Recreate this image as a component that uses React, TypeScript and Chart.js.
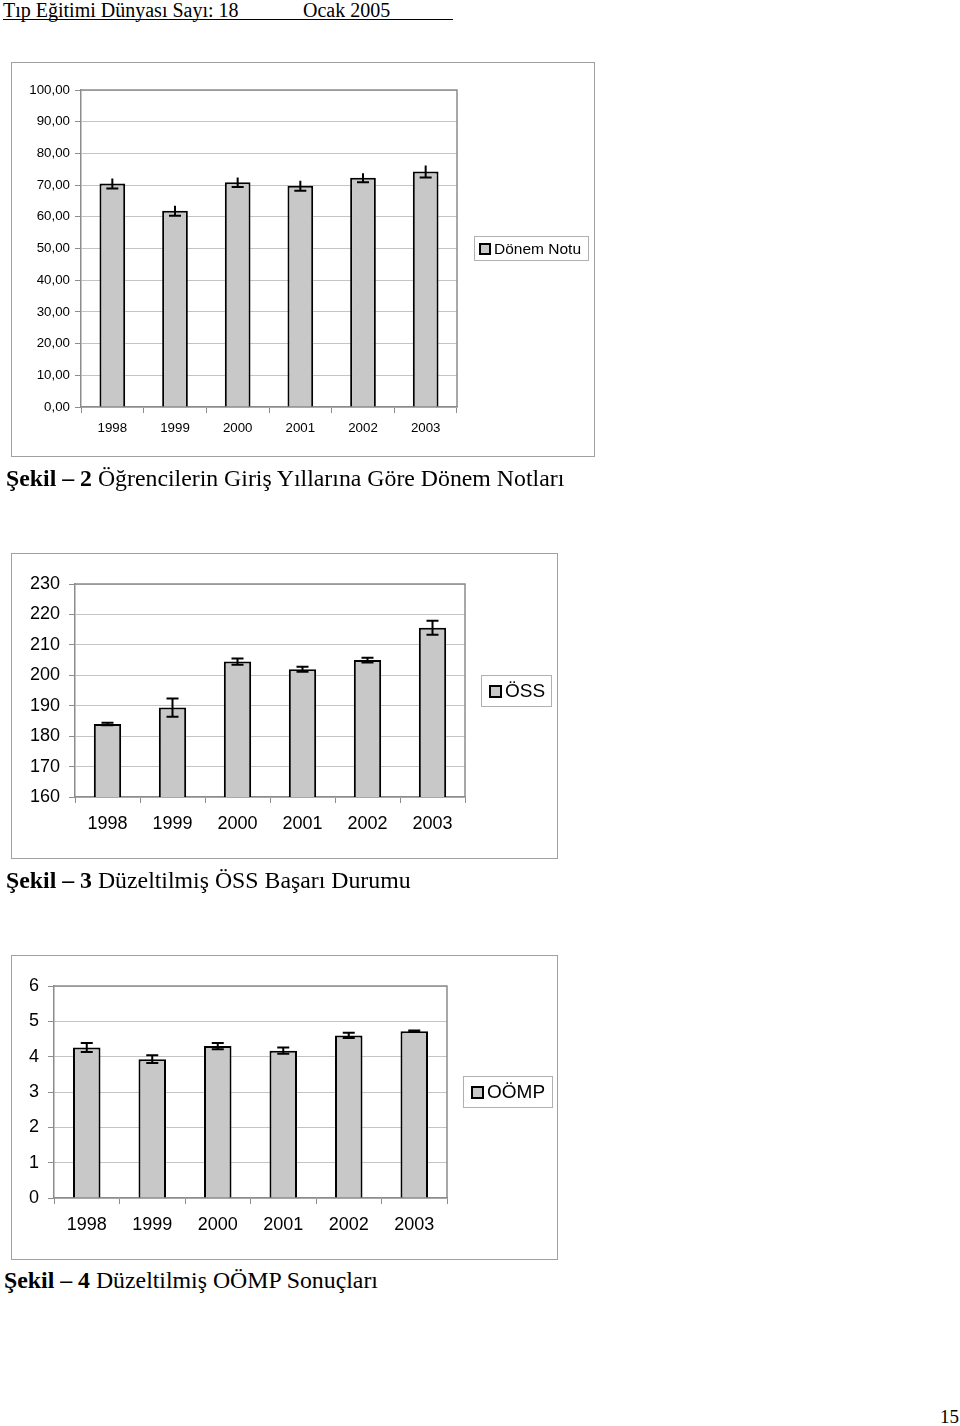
import React, { useEffect, useRef } from 'react';
import { Chart, registerables } from 'chart.js';
Chart.register(...registerables);

const years = ['1998', '1999', '2000', '2001', '2002', '2003'];

const donemNotu = [70.5, 61.9, 70.9, 69.8, 72.3, 74.3];
const donemNotuErr = [1.6, 1.6, 1.5, 1.6, 1.4, 1.9];

const oss = [184.0, 189.4, 204.5, 202.0, 205.0, 215.6];
const ossErr = [0.4, 3.0, 1.0, 0.8, 0.8, 2.3];

const oomp = [4.26, 3.93, 4.3, 4.17, 4.6, 4.72];
const oompErr = [0.13, 0.11, 0.09, 0.09, 0.075, 0.02];

const SANS = '"Liberation Sans", Arial, sans-serif';
const SERIF = '"Liberation Serif", "Times New Roman", serif';

type Box = { left: number; top: number; width: number; height: number };
type Plot = { left: number; right: number; top: number; bottom: number };

interface ChartSpec {
  box: Box;
  plot: Plot;
  values: number[];
  errors: number[];
  min: number;
  max: number;
  step: number;
  fontSize: number;
  barPct: number;
  topCap: boolean;
  capWidth: number;
  yPad: number;
  xPad: number;
  fmt: (v: number) => string;
  label: string;
}

function BarChart({ spec }: { spec: ChartSpec }) {
  const ref = useRef<HTMLCanvasElement | null>(null);
  useEffect(() => {
    if (!ref.current) return;
    const { box, plot } = spec;
    const errorPlugin = {
      id: 'errbars',
      afterDatasetsDraw(chart: any) {
        const meta = chart.getDatasetMeta(0);
        const ys = chart.scales.y;
        const ctx = chart.ctx;
        ctx.save();
        ctx.strokeStyle = '#000';
        ctx.lineWidth = 2;
        meta.data.forEach((bar: any, i: number) => {
          const v = spec.values[i];
          const e = spec.errors[i];
          const yT = ys.getPixelForValue(v + e);
          const yB = ys.getPixelForValue(v - e);
          const x = bar.x;
          const hw = spec.capWidth / 2;
          ctx.beginPath();
          ctx.moveTo(x, yT);
          ctx.lineTo(x, yB);
          ctx.moveTo(x - hw, yB);
          ctx.lineTo(x + hw, yB);
          if (spec.topCap) {
            ctx.moveTo(x - hw, yT);
            ctx.lineTo(x + hw, yT);
          }
          ctx.stroke();
        });
        ctx.restore();
      },
    };
    const framePlugin = {
      id: 'frame',
      beforeDatasetsDraw(chart: any) {
        const { ctx, chartArea } = chart;
        ctx.save();
        ctx.strokeStyle = '#8c8c8c';
        ctx.lineWidth = 1.5;
        ctx.beginPath();
        ctx.moveTo(chartArea.left, chartArea.top);
        ctx.lineTo(chartArea.right, chartArea.top);
        ctx.lineTo(chartArea.right, chartArea.bottom);
        ctx.stroke();
        ctx.restore();
      },
    };
    const chart = new Chart(ref.current, {
      type: 'bar',
      data: {
        labels: years,
        datasets: [
          {
            label: spec.label,
            data: spec.values,
            backgroundColor: '#c8c8c8',
            borderColor: '#000',
            borderWidth: 2,
            categoryPercentage: 1,
            barPercentage: spec.barPct,
          },
        ],
      },
      options: {
        responsive: false,
        animation: false,
        devicePixelRatio: 1,
        layout: {
          padding: {
            left: 0,
            top: plot.top - box.top,
            right: box.left + box.width - plot.right,
            bottom: 0,
          },
        },
        plugins: { legend: { display: false }, tooltip: { enabled: false } },
        scales: {
          x: {
            offset: true,
            grid: {
              offset: true,
              drawOnChartArea: false,
              drawTicks: true,
              tickLength: 6,
              color: '#8c8c8c',
              lineWidth: 1,
            },
            border: { display: true, color: '#8c8c8c', width: 1.5 },
            ticks: {
              color: '#000',
              font: { family: SANS, size: spec.fontSize },
              padding: spec.xPad,
              maxRotation: 0,
            },
            afterFit(scale: any) {
              scale.height = box.top + box.height - plot.bottom;
            },
          },
          y: {
            min: spec.min,
            max: spec.max,
            grid: {
              color: '#c4c4c4',
              lineWidth: 1,
              tickLength: 6,
              tickColor: '#8c8c8c',
            },
            border: { display: true, color: '#8c8c8c', width: 1.5 },
            ticks: {
              stepSize: spec.step,
              color: '#000',
              font: { family: SANS, size: spec.fontSize },
              padding: spec.yPad,
              callback: (v: any) => spec.fmt(Number(v)),
            },
            afterFit(scale: any) {
              scale.width = plot.left - box.left;
            },
          },
        },
      },
      plugins: [framePlugin, errorPlugin],
    } as any);
    return () => chart.destroy();
  }, [spec]);
  const { box } = spec;
  return (
    <>
      <canvas
        ref={ref}
        width={box.width}
        height={box.height}
        style={{ position: 'absolute', left: box.left, top: box.top, width: box.width, height: box.height, display: 'block' }}
      />
      <div
        style={{
          position: 'absolute',
          left: box.left,
          top: box.top,
          width: box.width,
          height: box.height,
          boxSizing: 'border-box',
          border: '1.5px solid #a0a0a0',
          pointerEvents: 'none',
        }}
      />
    </>
  );
}

function Legend({
  left,
  top,
  width,
  height,
  size,
  text,
  sw,
  pad,
}: {
  left: number;
  top: number;
  width: number;
  height: number;
  size: number;
  text: string;
  sw: number;
  pad: number;
}) {
  return (
    <div
      style={{
        position: 'absolute',
        left,
        top,
        width,
        height,
        boxSizing: 'border-box',
        border: '1px solid #b0b0b0',
        display: 'flex',
        alignItems: 'center',
        paddingLeft: pad,
        fontFamily: SANS,
        fontSize: size,
        color: '#000',
        whiteSpace: 'nowrap',
      }}
    >
      <span
        style={{
          display: 'inline-block',
          width: sw,
          height: sw,
          boxSizing: 'border-box',
          border: '2px solid #000',
          background: '#c8c8c8',
          marginRight: 3,
          flex: 'none',
        }}
      />
      <span>{text}</span>
    </div>
  );
}

const spec1: ChartSpec = {
  box: { left: 11, top: 62, width: 584, height: 395 },
  plot: { left: 81, right: 457, top: 90, bottom: 407 },
  values: donemNotu,
  errors: donemNotuErr,
  min: 0,
  max: 100,
  step: 10,
  fontSize: 13.3,
  barPct: 0.41,
  topCap: false,
  capWidth: 12,
  yPad: 5,
  xPad: 7,
  fmt: (v) => v.toFixed(2).replace('.', ','),
  label: 'Dönem Notu',
};

const spec2: ChartSpec = {
  box: { left: 11, top: 553, width: 547, height: 306 },
  plot: { left: 75, right: 465, top: 584, bottom: 797 },
  values: oss,
  errors: ossErr,
  min: 160,
  max: 230,
  step: 10,
  fontSize: 18,
  barPct: 0.42,
  topCap: true,
  capWidth: 12,
  yPad: 9,
  xPad: 10,
  fmt: (v) => String(v),
  label: 'ÖSS',
};

const spec3: ChartSpec = {
  box: { left: 11, top: 955, width: 547, height: 305 },
  plot: { left: 54, right: 447, top: 986, bottom: 1198 },
  values: oomp,
  errors: oompErr,
  min: 0,
  max: 6,
  step: 1,
  fontSize: 18,
  barPct: 0.42,
  topCap: true,
  capWidth: 12,
  yPad: 9,
  xPad: 10,
  fmt: (v) => String(v),
  label: 'OÖMP',
};

function Caption({ left, top, size, num, text }: { left: number; top: number; size: number; num: string; text: string }) {
  return (
    <div
      style={{
        position: 'absolute',
        left,
        top,
        fontFamily: SERIF,
        fontSize: size,
        lineHeight: 1,
        whiteSpace: 'nowrap',
        color: '#000',
      }}
    >
      <b>Şekil – {num}</b> {text}
    </div>
  );
}

export default function App() {
  return (
    <div style={{ position: 'absolute', left: 0, top: 0, width: 960, height: 1426, background: '#fff', overflow: 'hidden' }}>
      <div
        style={{
          position: 'absolute',
          left: 3,
          top: 0,
          width: 450,
          height: 19,
          borderBottom: '1px solid #000',
          fontFamily: SERIF,
          fontSize: 20,
          lineHeight: '20px',
          whiteSpace: 'nowrap',
        }}
      >
        <span style={{ position: 'absolute', left: 0, top: 0 }}>Tıp Eğitimi Dünyası Sayı: 18</span>
        <span style={{ position: 'absolute', left: 300, top: 0 }}>Ocak 2005</span>
      </div>

      <BarChart spec={spec1} />
      <Legend left={474} top={236} width={115} height={25} size={15.5} text="Dönem Notu" sw={12} pad={4} />
      <Caption left={6} top={467} size={23.8} num="2" text="Öğrencilerin Giriş Yıllarına Göre Dönem Notları" />

      <BarChart spec={spec2} />
      <Legend left={481} top={675} width={71} height={32} size={19} text="ÖSS" sw={13} pad={7} />
      <Caption left={6} top={869} size={23.8} num="3" text="Düzeltilmiş ÖSS Başarı Durumu" />

      <BarChart spec={spec3} />
      <Legend left={463} top={1076} width={90} height={32} size={19} text="OÖMP" sw={13} pad={7} />
      <Caption left={4} top={1269} size={23.8} num="4" text="Düzeltilmiş OÖMP Sonuçları" />

      <div style={{ position: 'absolute', left: 940, top: 1407, fontFamily: SERIF, fontSize: 19, lineHeight: 1 }}>15</div>
    </div>
  );
}
